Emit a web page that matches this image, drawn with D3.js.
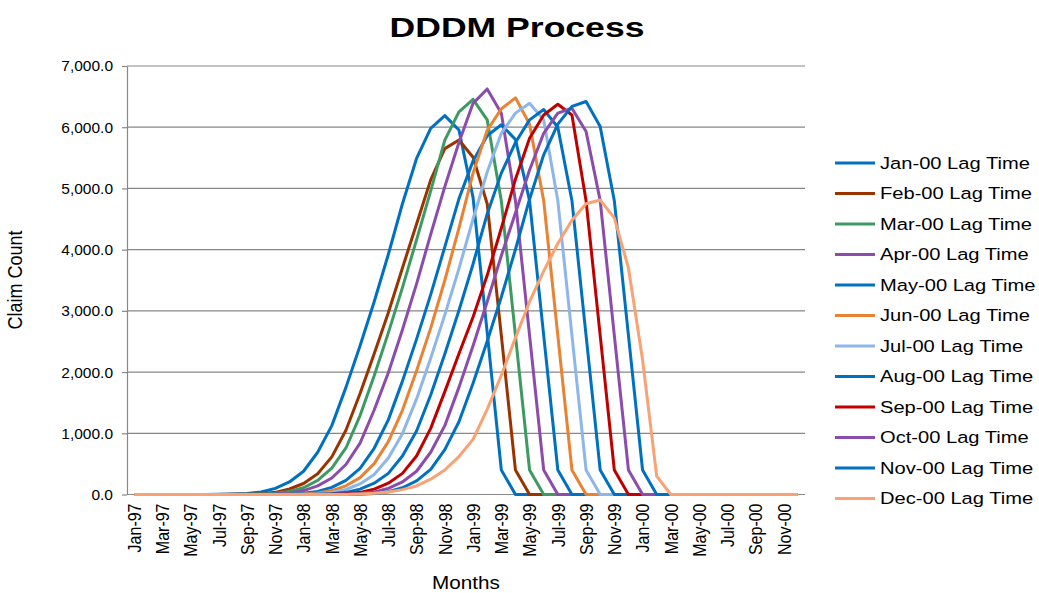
<!DOCTYPE html>
<html>
<head>
<meta charset="utf-8">
<script src="https://cdn.jsdelivr.net/npm/d3@7"></script>
<style>
  body { margin: 0; background: #ffffff; }
  text { font-family: "Liberation Sans", Arial, Helvetica, sans-serif; fill: #000; }
</style>
</head>
<body>
<svg id="chart" width="1039" height="593"></svg>
<script>
// Category axis: one entry per month, Jan-97 .. Dec-00
const months = [
  "Jan-97","Feb-97","Mar-97","Apr-97","May-97","Jun-97","Jul-97","Aug-97","Sep-97","Oct-97","Nov-97","Dec-97",
  "Jan-98","Feb-98","Mar-98","Apr-98","May-98","Jun-98","Jul-98","Aug-98","Sep-98","Oct-98","Nov-98","Dec-98",
  "Jan-99","Feb-99","Mar-99","Apr-99","May-99","Jun-99","Jul-99","Aug-99","Sep-99","Oct-99","Nov-99","Dec-99",
  "Jan-00","Feb-00","Mar-00","Apr-00","May-00","Jun-00","Jul-00","Aug-00","Sep-00","Oct-00","Nov-00","Dec-00"
];
const yTicks = [0, 1000, 2000, 3000, 4000, 5000, 6000, 7000];

const seriesNames = [
  "Jan-00 Lag Time","Feb-00 Lag Time","Mar-00 Lag Time","Apr-00 Lag Time",
  "May-00 Lag Time","Jun-00 Lag Time","Jul-00 Lag Time","Aug-00 Lag Time",
  "Sep-00 Lag Time","Oct-00 Lag Time","Nov-00 Lag Time","Dec-00 Lag Time"
];
const seriesColors = [
  "#0070C0","#993300","#3D9A62","#8B4CAB",
  "#0070C0","#E98232","#8DB6EA","#0070C0",
  "#C00000","#8B4CAB","#0070C0","#F9A273"
];

// Claim counts per month for each lag-time series
const jan00 = [0,0,0,0,0,0,3,8,18,40,100,205,380,690,1125,1750,2430,3150,3920,4750,5490,5980,6190,5955,4850,2650,400,0,
  0,0,0,0,0,0,0,0,0,0,0,0,0,0,0,0,0,0,0,0];
const feb00 = [0,0,0,0,0,0,0,3,6,12,35,90,180,340,615,1050,1650,2300,2970,3700,4420,5140,5650,5790,5510,4750,2600,400,
  0,0,0,0,0,0,0,0,0,0,0,0,0,0,0,0,0,0,0,0];
const mar00 = [0,0,0,0,0,0,0,0,4,10,22,50,110,230,430,760,1290,1940,2640,3380,4160,4960,5790,6250,6455,6120,4800,2600,400,
  0,0,0,0,0,0,0,0,0,0,0,0,0,0,0,0,0,0,0,0];
const apr00 = [0,0,0,0,0,0,0,0,0,4,10,25,64,140,270,490,840,1380,1990,2690,3440,4250,5030,5750,6390,6625,6230,4800,2600,400,
  0,0,0,0,0,0,0,0,0,0,0,0,0,0,0,0,0,0];
const may00 = [0,0,0,0,0,0,0,0,0,0,4,8,19,49,116,231,427,755,1219,1852,2538,3265,4045,4830,5450,5860,6040,5800,4800,2600,400,
  0,0,0,0,0,0,0,0,0,0,0,0,0,0,0,0,0];
const jun00 = [0,0,0,0,0,0,0,0,0,0,0,4,10,25,64,142,275,504,864,1375,2022,2718,3500,4350,5250,5950,6300,6480,6050,4800,2600,400,
  0,0,0,0,0,0,0,0,0,0,0,0,0,0,0,0];
const jul00 = [0,0,0,0,0,0,0,0,0,0,0,0,4,10,32,82,173,327,597,994,1562,2226,2934,3689,4501,5268,5900,6230,6390,6120,4800,2600,400,
  0,0,0,0,0,0,0,0,0,0,0,0,0,0,0];
const aug00 = [0,0,0,0,0,0,0,0,0,0,0,0,0,4,12,35,88,184,345,628,1038,1625,2294,3006,3766,4584,5250,5750,6120,6290,6000,4800,2600,400,
  0,0,0,0,0,0,0,0,0,0,0,0,0,0];
const sep00 = [0,0,0,0,0,0,0,0,0,0,0,0,0,0,4,12,35,88,184,345,628,1080,1680,2300,2900,3580,4350,5150,5820,6200,6375,6200,4800,2600,400,
  0,0,0,0,0,0,0,0,0,0,0,0,0];
const oct00 = [0,0,0,0,0,0,0,0,0,0,0,0,0,0,0,5,15,40,100,205,380,690,1125,1750,2430,3150,3900,4600,5300,5900,6230,6310,5930,4800,2600,400,
  0,0,0,0,0,0,0,0,0,0,0,0];
const nov00 = [0,0,0,0,0,0,0,0,0,0,0,0,0,0,0,0,5,17,46,110,222,411,734,1188,1818,2502,3227,4003,4824,5550,6050,6340,6420,6010,4800,2600,400,
  0,0,0,0,0,0,0,0,0,0,0];
const dec00 = [0,0,0,0,0,0,0,0,0,0,0,0,0,0,0,0,8,20,40,80,140,250,400,620,900,1390,1945,2560,3150,3650,4100,4480,4750,4810,4520,3700,2200,300,
  0,0,0,0,0,0,0,0,0,0];

const seriesValues = [jan00, feb00, mar00, apr00, may00, jun00, jul00, aug00, sep00, oct00, nov00, dec00];

const svg = d3.select("#chart");
const plot = { left: 127, right: 805, top: 66, bottom: 494.5 };
const gridColor = "#878787";

const x = d3.scaleBand().domain(months).range([plot.left, plot.right]);
const cx = m => x(m) + x.bandwidth() / 2;
const y = d3.scaleLinear().domain([0, 7000]).range([plot.bottom, plot.top]);

// Title
svg.append("text")
  .attr("transform", "translate(517,37) scale(1.27,1)")
  .attr("text-anchor", "middle")
  .attr("font-size", 28)
  .attr("font-weight", "bold")
  .text("DDDM Process");

// Horizontal gridlines (including the zero baseline)
svg.append("g")
  .selectAll("line")
  .data(yTicks)
  .join("line")
  .attr("x1", plot.left).attr("x2", plot.right)
  .attr("y1", d => y(d)).attr("y2", d => y(d))
  .attr("stroke", gridColor)
  .attr("stroke-width", 1.2);

// Value axis
const yAxis = svg.append("g")
  .attr("transform", `translate(${plot.left},0)`)
  .call(d3.axisLeft(y).tickValues(yTicks).tickFormat(d3.format(",.1f")).tickSize(5).tickSizeOuter(0).tickPadding(0));
yAxis.select(".domain").attr("stroke", gridColor).attr("stroke-width", 1.2);
yAxis.selectAll(".tick line").attr("stroke", gridColor).attr("stroke-width", 1.2);
yAxis.selectAll(".tick text")
  .attr("x", null)
  .attr("font-size", 15.5)
  .attr("transform", "translate(-14,0)");

// Category axis: every other month, rotated and widened like the value labels
const xAxis = svg.append("g")
  .attr("transform", `translate(0,${plot.bottom})`)
  .call(d3.axisBottom(x).tickValues(months.filter((d, i) => i % 2 === 0)).tickSize(0).tickPadding(0));
xAxis.select(".domain").remove();
xAxis.selectAll(".tick text")
  .attr("transform", "scale(1.2,1) rotate(-90)")
  .attr("text-anchor", "end")
  .attr("x", -9)
  .attr("y", 0)
  .attr("dy", "0.35em")
  .attr("font-size", 16);

// Axis titles
svg.append("text")
  .attr("transform", "translate(22,280) scale(1.15,1) rotate(-90)")
  .attr("text-anchor", "middle")
  .attr("font-size", 18)
  .text("Claim Count");
svg.append("text")
  .attr("transform", "translate(466,589) scale(1.15,1)")
  .attr("text-anchor", "middle")
  .attr("font-size", 18)
  .text("Months");

// Series lines
const line = d3.line()
  .x((d, i) => cx(months[i]))
  .y(d => y(d));

svg.append("g")
  .selectAll("path")
  .data(seriesValues)
  .join("path")
  .attr("d", d => line(d))
  .attr("fill", "none")
  .attr("stroke", (d, i) => seriesColors[i])
  .attr("stroke-width", 3)
  .attr("stroke-linejoin", "round");

// Legend
const legend = svg.append("g");
const rows = legend.selectAll("g")
  .data(seriesNames)
  .join("g")
  .attr("transform", (d, i) => `translate(0,${163 + i * 30.5})`);
rows.append("line")
  .attr("x1", 835).attr("x2", 875)
  .attr("y1", 0).attr("y2", 0)
  .attr("stroke", (d, i) => seriesColors[i])
  .attr("stroke-width", 3);
rows.append("text")
  .attr("transform", "translate(880,0) scale(1.22,1)")
  .attr("dy", "0.35em")
  .attr("font-size", 16.5)
  .text(d => d);
</script>
</body>
</html>
